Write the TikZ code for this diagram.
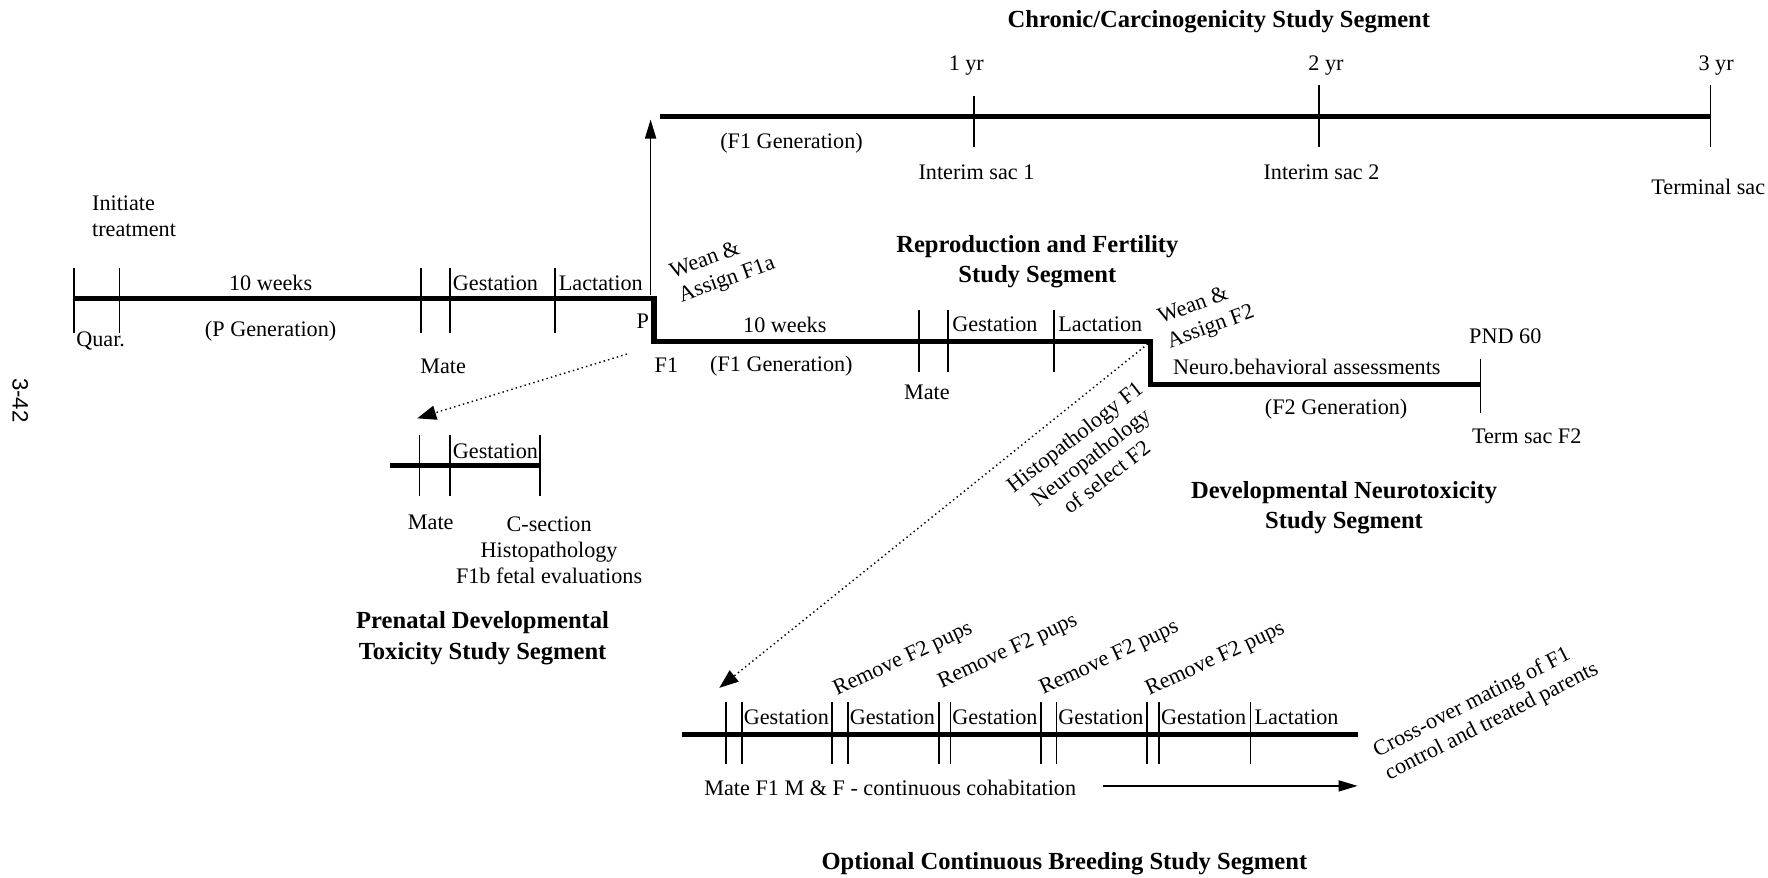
\documentclass[tikz,border=0pt]{standalone}
\usepackage{fontspec}
\setmainfont{Liberation Serif}
\newfontfamily\pagefont{Liberation Sans}
\usetikzlibrary{arrows.meta}

\begin{document}
\begin{tikzpicture}[x=0.025cm,y=-0.025cm,
	every node/.style={font=\fontsize{14}{16.3}\selectfont,inner sep=1pt},
	tline/.style={line width=3.2pt,line join=miter},
	tickmark/.style={line width=1.2pt},
	segtitle/.style={font=\bfseries\fontsize{15.5}{19}\selectfont,align=center},
	ptr/.style={dotted,line width=0.9pt,-{Triangle[length=12pt,width=9pt]}},
	solidptr/.style={line width=0.9pt,-{Triangle[length=12pt,width=7pt]}}
	]
	\useasboundingbox (0,0) rectangle (1568,778);

	% page number
	\node[rotate=-90,font=\pagefont\fontsize{14}{16}\selectfont] at (18,355) (pageno) {3-42};

	% P generation -> F1 -> F2 (one stepped line)
	\coordinate (pstart) at (66,265);
	\coordinate (pstep) at (580,265);
	\coordinate (fstep) at (1020,303);
	\coordinate (fend) at (1313,341);
	\draw[tline] (pstart) -- (pstep) |- (fstep) |- (fend);
	\foreach \x in {66,106,373,399,492}
		\draw[tickmark] (\x,238) -- (\x,295);

	\node[anchor=west,align=left] at (80,192) (init) {Initiate\\treatment};
	\node at (240,251) (tenP) {10 weeks};
	\node at (240,294) (genP) {(P Generation)};
	\node[anchor=west] at (66,302) (quar) {Quar.};
	\node[anchor=west] at (400,251) (gestP) {Gestation};
	\node[anchor=west] at (494,251) (lactP) {Lactation};
	\node at (570,285) (lblP) {P};
	\node at (591,324) (lblF) {F1};
	\node at (393,325) (mateP) {Mate};

	% chronic segment
	\coordinate (upfoot) at (577,262);
	\coordinate (uptip) at (577,106);
	\draw[solidptr] (upfoot) -- (uptip);
	\draw[tline] (585,103) -- (1517,103);
	\draw[tickmark] (864,85) -- (864,130);
	\draw[tickmark] (1170,75) -- (1170,130);
	\draw[tickmark] (1517,75) -- (1517,130);
	\node[segtitle] at (1081,19) (chrtitle) {Chronic/Carcinogenicity Study Segment};
	\node at (857,58) (yr1) {1 yr};
	\node at (1176,58) (yr2) {2 yr};
	\node at (1522,58) (yr3) {3 yr};
	\node at (702,127) (genC) {(F1 Generation)};
	\node at (866,153) (isac1) {Interim sac 1};
	\node at (1172,153) (isac2) {Interim sac 2};
	\node at (1515,166) (tsac) {Terminal sac};

	% reproduction and fertility segment
	\foreach \x in {815,841,935}
		\draw[tickmark] (\x,275) -- (\x,330);
	\node[rotate=20,align=left] at (641,238) (weanA) {Wean \&\\Assign F1a};
	\node at (696,288) (tenF) {10 weeks};
	\node at (693,325) (genF) {(F1 Generation)};
	\node[anchor=west] at (843,288) (gestF) {Gestation};
	\node[anchor=west] at (937,288) (lactF) {Lactation};
	\node at (822,348) (mateF) {Mate};
	\node[segtitle] at (920,232) (reptitle) {Reproduction and Fertility\\Study Segment};

	% developmental neurotoxicity segment
	\draw[tickmark] (1313,318) -- (1313,366);
	\node[rotate=20,align=left] at (1070,280) (weanB) {Wean \&\\Assign F2};
	\node at (1159,325) (neuro) {Neuro.behavioral assessments};
	\node at (1335,298) (pnd) {PND 60};
	\node at (1185,363) (genF2) {(F2 Generation)};
	\node at (1354,387) (termF2) {Term sac F2};
	\node[rotate=38,align=center] at (967,405) (histo) {Histopathology F1\\Neuropathology\\of select F2};
	\node[segtitle] at (1192,450) (dnttitle) {Developmental Neurotoxicity\\Study Segment};

	% prenatal developmental toxicity segment
	\draw[tline] (346,413) -- (479,413);
	\foreach \x in {372,399,479}
		\draw[tickmark] (\x,386) -- (\x,440);
	\node[anchor=west] at (400,400) (gestR) {Gestation};
	\node at (382,463) (mateR) {Mate};
	\node[align=center] at (487,488) (csec) {C-section\\Histopathology\\F1b fetal evaluations};
	\node[segtitle] at (428,566) (pretitle) {Prenatal Developmental\\Toxicity Study Segment};

	% dotted pointers
	\coordinate (fromP) at (556,314);
	\coordinate (toPre) at (370,371);
	\coordinate (fromF) at (1018,305);
	\coordinate (toCont) at (638,610);
	\draw[ptr] (fromP) -- (toPre);
	\draw[ptr] (fromF) -- (toCont);

	% optional continuous breeding segment
	\draw[tline] (605,651) -- (1204,651);
	\foreach \x in {644,658,738,752,833,843,923,937,1017,1028,1109}
		\draw[tickmark] (\x,623) -- (\x,678);
	\foreach \x/\n in {658/1,752/2,843/3,937/4,1028/5}
		\node[anchor=west] at (\x,636) (gestC\n) {Gestation};
	\node[anchor=west] at (1111,636) (lactC) {Lactation};
	\foreach \x/\y/\n in {801/585/1,894/578/2,984/584/3,1078/585/4}
		\node[rotate=25] at (\x,\y) (remove\n) {Remove F2 pups};
	\node[rotate=27,align=left] at (1318,630) (cross) {Cross-over mating of F1\\control and treated parents};
	\node[anchor=west] at (623,699) (cohab) {Mate F1 M \& F - continuous cohabitation};
	\coordinate (cohabend) at (1204,697);
	\draw[solidptr] (cohab.east) ++(22,-2) coordinate (cohabstart) -- (cohabend);
	\node[segtitle] at (944,766) (conttitle) {Optional Continuous Breeding Study Segment};

\end{tikzpicture}
\end{document}
